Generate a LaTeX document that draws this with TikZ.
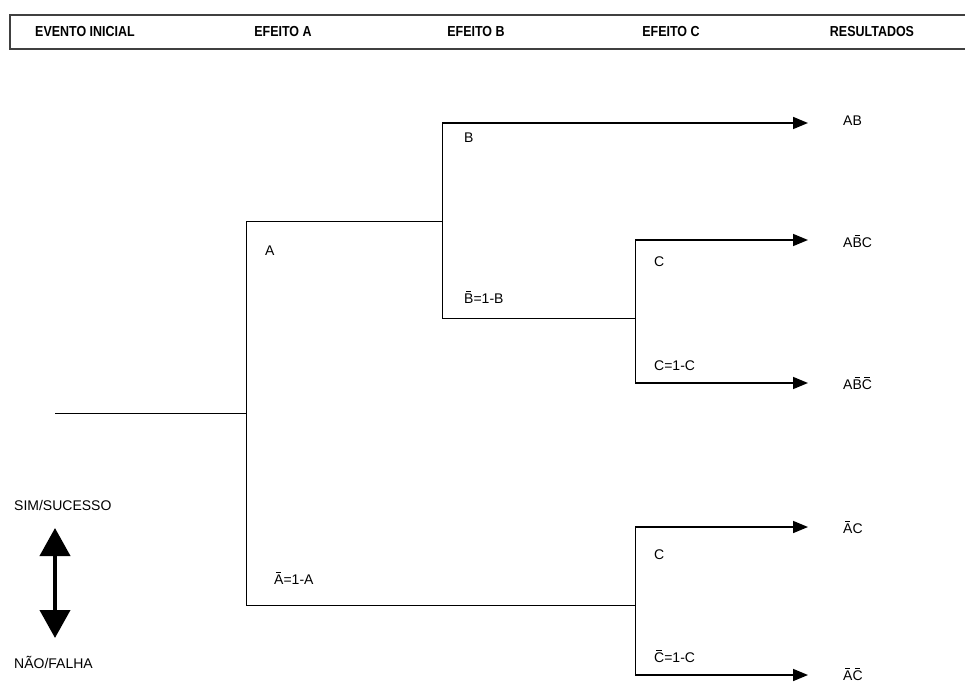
\documentclass[tikz,border=0pt]{standalone}
\usepackage{fontspec}
\setmainfont{Liberation Sans}
\newfontfamily\hdrfont[FakeStretch=0.86]{Liberation Sans}
\usetikzlibrary{arrows.meta}
\newcommand\myob[1]{{\setbox0\hbox{#1}\rlap{\hbox to\wd0{\hss\rule[0.84em]{0.55\wd0}{0.065em}\hss}}\box0}}
\begin{document}
\begin{tikzpicture}[x=1pt,y=-1pt,
  hdr/.style={font=\hdrfont\bfseries\fontsize{14.5}{16}\selectfont, inner sep=0pt},
  lbl/.style={font=\fontsize{14}{16}\selectfont, inner sep=0pt, anchor=west},
  res/.style={font=\fontsize{14}{16}\selectfont, inner sep=0pt, anchor=west},
  br/.style={line width=1pt, draw=black},
  arr/.style={line width=1.6pt, -{Triangle[length=15pt,width=12pt]}},
  big/.style={line width=4pt, {Triangle[length=28pt,width=30pt]}-{Triangle[length=28pt,width=30pt]}}]
\useasboundingbox (0,0) rectangle (965,684);
% header
\draw[line width=1.8pt, draw=black!75] (970,15) -- (10,15) -- (10,49) -- (970,49);
\node[hdr] (h1) at (85,32) {EVENTO INICIAL};
\node[hdr] (h2) at (283,32) {EFEITO A};
\node[hdr] (h3) at (476,32) {EFEITO B};
\node[hdr] (h4) at (671,32) {EFEITO C};
\node[hdr] (h5) at (872,32) {RESULTADOS};
% tree coordinates
\coordinate (s) at (55,413);
\coordinate (a0) at (246,413);
\coordinate (aT) at (246,222);
\coordinate (aB) at (246,605);
\coordinate (bT) at (442,123);
\coordinate (bM) at (442,222);
\coordinate (bB) at (442,318);
\coordinate (c1M) at (635,318);
\coordinate (c1T) at (635,240);
\coordinate (c1B) at (635,383);
\coordinate (c2M) at (635,605);
\coordinate (c2T) at (635,527);
\coordinate (c2B) at (635,675);
\coordinate (e1) at (808,123);
\coordinate (e2) at (808,240);
\coordinate (e3) at (808,383);
\coordinate (e4) at (808,527);
\coordinate (e5) at (808,675);
% branches
\draw[br] (s) -- (a0);
\draw[br] (aT) -- (aB);
\draw[br] (aT) -- (bM);
\draw[br] (aB) -- (c2M);
\draw[br] (bT) -- (bB);
\draw[br] (bB) -- (c1M);
\draw[br] (c1T) -- (c1B);
\draw[br] (c2T) -- (c2B);
\draw[arr] (bT) -- (e1);
\draw[arr] (c1T) -- (e2);
\draw[arr] (c1B) -- (e3);
\draw[arr] (c2T) -- (e4);
\draw[arr] (c2B) -- (e5);
% labels
\node[lbl] (lA) at (265,251) {A};
\node[lbl] (lnA) at (274,578) {\myob{A}=1-A};
\node[lbl] (lB) at (464,138) {B};
\node[lbl] (lnB) at (464,297) {\myob{B}=1-B};
\node[lbl] (lC1) at (654,262) {C};
\node[lbl] (lnC1) at (654,366) {C=1-C};
\node[lbl] (lC2) at (654,555) {C};
\node[lbl] (lnC2) at (654,656) {\myob{C}=1-C};
% results
\node[res] (r1) at (843,121) {AB};
\node[res] (r2) at (843,241) {A\myob{B}C};
\node[res] (r3) at (843,383) {A\myob{B}\myob{C}};
\node[res] (r4) at (843,527) {\myob{A}C};
\node[res] (r5) at (843,674) {\myob{A}\myob{C}};
% legend
\node[lbl] (sim) at (14,505) {SIM/SUCESSO};
\node[lbl] (nao) at (14,662) {NÃO/FALHA};
\coordinate (gT) at (55,528);
\coordinate (gB) at (55,638);
\draw[big] (gT) -- (gB);
\end{tikzpicture}
\end{document}
